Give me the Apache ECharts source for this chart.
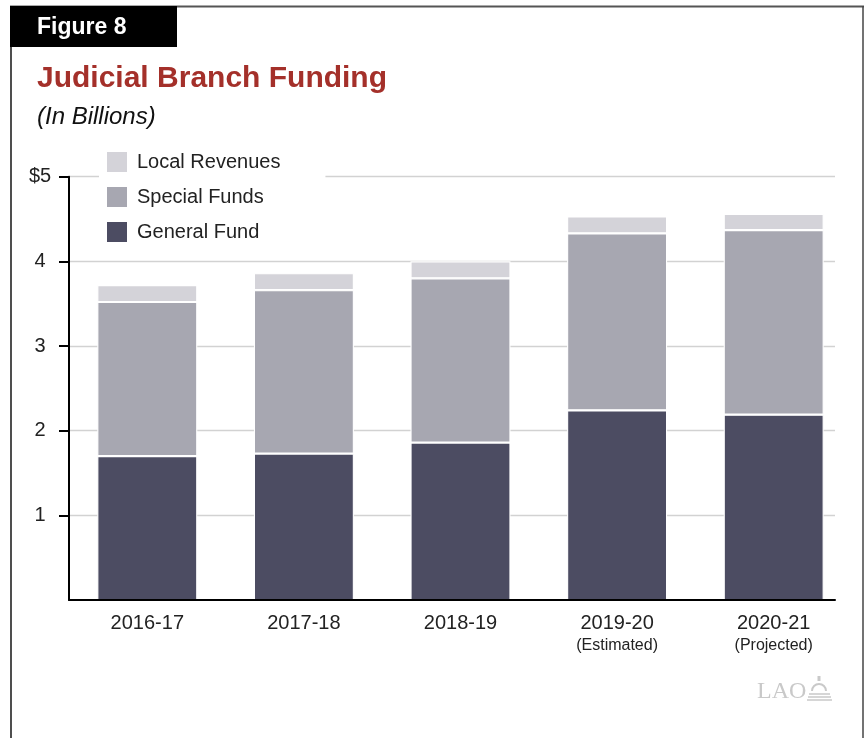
<!DOCTYPE html>
<html>
<head>
<meta charset="utf-8">
<script src="https://cdn.jsdelivr.net/npm/echarts@6/dist/echarts.min.js"></script>
<style>
  html, body { margin: 0; padding: 0; background: #fff; }
  #chart { width: 864px; height: 738px; }
</style>
</head>
<body>
<div id="chart"></div>
<script>
// Fiscal years and their footnotes under the axis
const categories = ['2016-17', '2017-18', '2018-19', '2019-20', '2020-21'];
const categoryNotes = ['', '', '', '(Estimated)', '(Projected)'];

// Funding by source, in billions of dollars
const generalFund   = [1.70, 1.73, 1.86, 2.24, 2.19];
const specialFunds  = [1.82, 1.93, 1.94, 2.09, 2.18];
const localRevenues = [0.20, 0.20, 0.20, 0.20, 0.19];

// Y axis ticks
const yTicks = [1, 2, 3, 4, 5];

const FONT = "'Liberation Sans', Arial, Helvetica, sans-serif";
const COLORS = { general: '#4c4c62', special: '#a7a7b1', local: '#d4d3d9' };
const GRAY_LOGO = '#c9c9c9';

const PLOT_TOP = 176.7;
const PLOT_BOTTOM = 138;

function barSeries(name, values, color) {
  return {
    name: name,
    type: 'bar',
    stack: 'funding',
    xAxisIndex: 0,
    yAxisIndex: 0,
    data: values,
    barWidth: 100,
    itemStyle: { color: color, borderColor: '#ffffff', borderWidth: 1.1 },
    emphasis: { disabled: true },
    z: 3
  };
}

const chart = echarts.init(document.getElementById('chart'), null, { renderer: 'canvas' });

chart.setOption({
  animation: false,
  backgroundColor: '#ffffff',
  textStyle: { fontFamily: FONT },
  grid: [
    // bar layout: five equal category slots
    { left: 69, right: 12, top: PLOT_TOP, bottom: PLOT_BOTTOM },
    // frame: axis lines, ticks and gridlines
    { left: 69, right: 29, top: PLOT_TOP, bottom: PLOT_BOTTOM }
  ],
  legend: {
    orient: 'vertical',
    left: 99,
    top: 144,
    padding: [6, 45, 6, 6],
    backgroundColor: '#ffffff',
    itemWidth: 22,
    itemHeight: 22,
    itemGap: 11,
    selectedMode: false,
    icon: 'rect',
    data: ['Local Revenues', 'Special Funds', 'General Fund'],
    textStyle: { fontFamily: FONT, fontSize: 20, color: '#222', padding: [0, 0, 0, 4] },
    z: 5
  },
  xAxis: [
    {
      type: 'category',
      gridIndex: 0,
      data: categories,
      boundaryGap: true,
      axisLine: { show: false },
      axisTick: { show: false },
      splitLine: { show: false },
      axisLabel: {
        interval: 0,
        margin: 11,
        color: '#222',
        fontFamily: FONT,
        fontSize: 20,
        lineHeight: 24,
        formatter: function (value, i) {
          const note = categoryNotes[i];
          return value + (note ? '\n{note|' + note + '}' : '');
        },
        rich: {
          note: { fontFamily: FONT, fontSize: 16, lineHeight: 21, color: '#222' }
        }
      }
    },
    {
      type: 'value',
      gridIndex: 1,
      min: 0,
      max: 1,
      z: 6,
      axisLine: { show: true, onZero: false, lineStyle: { color: '#000', width: 2 } },
      axisTick: { show: false },
      axisLabel: { show: false },
      splitLine: { show: false }
    }
  ],
  yAxis: [
    {
      type: 'value',
      gridIndex: 0,
      min: 0,
      max: 5,
      show: false
    },
    {
      type: 'value',
      gridIndex: 1,
      min: 0,
      max: 5,
      interval: 1,
      axisLine: { show: true, onZero: false, lineStyle: { color: '#000', width: 2 } },
      axisTick: {
        show: true,
        customValues: yTicks,
        length: 10,
        lineStyle: { color: '#000', width: 2 }
      },
      axisLabel: {
        customValues: yTicks,
        align: 'center',
        margin: 29,
        color: '#222',
        fontFamily: FONT,
        fontSize: 20,
        formatter: function (v) { return v === 5 ? '$5' : String(v); }
      },
      splitLine: { show: true, lineStyle: { color: '#d2d2d2', width: 1.3 } }
    }
  ],
  series: [
    barSeries('General Fund', generalFund, COLORS.general),
    barSeries('Special Funds', specialFunds, COLORS.special),
    barSeries('Local Revenues', localRevenues, COLORS.local)
  ],
  graphic: [
    // figure frame
    { type: 'line', shape: { x1: 10, y1: 6.5, x2: 864, y2: 6.5 }, style: { stroke: '#555', lineWidth: 2 }, z: 10 },
    { type: 'line', shape: { x1: 11, y1: 6, x2: 11, y2: 738 }, style: { stroke: '#222', lineWidth: 1.6 }, z: 10 },
    { type: 'line', shape: { x1: 863, y1: 6, x2: 863, y2: 738 }, style: { stroke: '#444', lineWidth: 1.5 }, z: 10 },
    // figure tab
    { type: 'rect', shape: { x: 10, y: 6, width: 167, height: 41 }, style: { fill: '#000' }, z: 11 },
    { type: 'text', x: 37, y: 27.5, style: { text: 'Figure 8', fill: '#fff', font: 'bold 23px ' + FONT, verticalAlign: 'middle' }, z: 12 },
    // title and unit
    { type: 'text', x: 37, y: 79, style: { text: 'Judicial Branch Funding', fill: '#a4302a', font: 'bold 30px ' + FONT, verticalAlign: 'middle' }, z: 12 },
    { type: 'text', x: 37, y: 117.5, style: { text: '(In Billions)', fill: '#111', font: 'italic 24px ' + FONT, verticalAlign: 'middle' }, z: 12 },
    // LAO mark
    { type: 'text', x: 757, y: 692, style: { text: 'LAO', fill: GRAY_LOGO, font: "24px 'Liberation Serif', 'Times New Roman', serif", verticalAlign: 'middle' }, z: 12 },
    { type: 'rect', shape: { x: 817.5, y: 676, width: 3, height: 5 }, style: { fill: GRAY_LOGO }, z: 12 },
    { type: 'arc', shape: { cx: 819, cy: 691, r: 7, startAngle: Math.PI, endAngle: 2 * Math.PI }, style: { stroke: GRAY_LOGO, fill: null, lineWidth: 2 }, z: 12 },
    { type: 'line', shape: { x1: 809, y1: 694, x2: 830, y2: 694 }, style: { stroke: GRAY_LOGO, lineWidth: 1.5 }, z: 12 },
    { type: 'line', shape: { x1: 808, y1: 697, x2: 831, y2: 697 }, style: { stroke: GRAY_LOGO, lineWidth: 1.5 }, z: 12 },
    { type: 'line', shape: { x1: 807, y1: 700, x2: 832, y2: 700 }, style: { stroke: GRAY_LOGO, lineWidth: 1.5 }, z: 12 }
  ]
});
</script>
</body>
</html>
